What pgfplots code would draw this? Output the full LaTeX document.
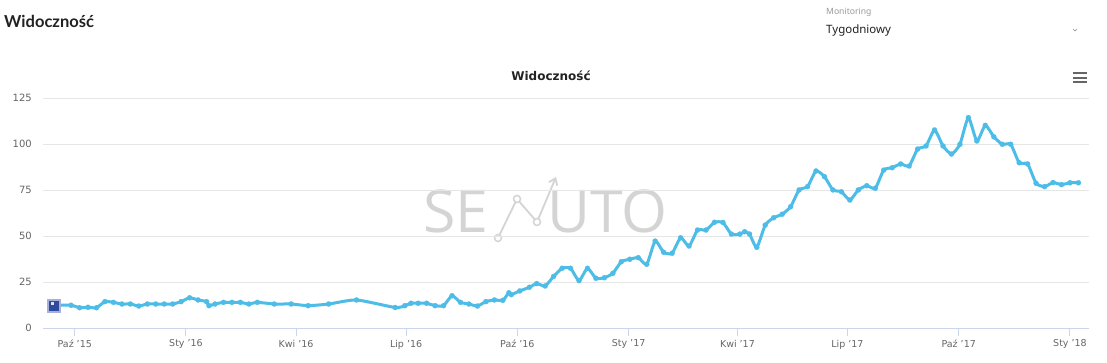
\documentclass[border=0pt]{standalone}
\usepackage{pgfplots}
\pgfplotsset{compat=1.18}
\usepackage{fontspec}
\usetikzlibrary{arrows.meta}
\setmainfont{DejaVu Sans}
\newfontfamily\hdr{Noto Sans}
\newfontfamily\hdrb{Lato}
\newfontfamily\wmfont{Open Sans}
\definecolor{linec}{HTML}{4DBDE8}
\definecolor{labelc}{HTML}{666666}
\definecolor{gridc}{HTML}{E6E6E6}
\definecolor{axisc}{HTML}{CCD6EB}
\definecolor{hdrc}{HTML}{222222}
\definecolor{wmc}{HTML}{D4D4D4}
\definecolor{navyc}{HTML}{2F4A9C}
\definecolor{navyl}{HTML}{8090C8}

\pgfplotstableread{
d v
-17 12.5
-3 12.5
4 11.2
11 11.4
18 11.2
25 14.5
32 14.1
39 13.2
46 13.2
53 12.1
60 13.2
67 13.2
74 13.2
81 13.2
88 14.5
95 16.6
102 15.4
109 14.5
111 12.3
116 13.2
123 14.1
130 14.1
137 14.1
144 13.2
151 14.1
165 13.2
179 13.2
193 12.3
210 13.2
233 15.4
265 11.3
273 12.3
278 13.6
284 13.6
291 13.6
298 12.3
305 12.3
312 17.7
319 14.1
326 13.2
333 12.1
340 14.5
347 15.4
354 15.2
359 19.3
361 18.3
368 20.3
376 22.3
382 24.3
389 23.0
396 28.2
403 32.6
410 32.6
417 25.9
424 32.6
431 27.2
438 27.5
445 29.9
452 36.2
459 37.5
466 38.4
473 34.8
480 47.4
487 41.3
494 40.8
501 49.2
508 44.7
515 53.4
522 53.4
529 57.6
536 57.5
543 51.2
550 51.2
554 52.5
558 51.2
564 44.0
571 56.1
578 60.1
585 62.0
592 66.1
599 75.2
606 77.0
613 85.5
620 82.4
627 75.2
634 74.2
641 69.7
648 75.2
655 77.5
662 76.1
669 86.0
676 87.3
683 89.3
690 88.2
697 97.4
704 99.1
711 107.8
718 99.1
725 94.7
732 100.0
739 114.5
746 101.8
753 110.3
760 104.1
767 100.0
774 100.0
781 90.0
788 89.3
795 78.8
802 77.0
809 79.2
816 78.1
823 79.1
830 79.1
}\vis

\begin{document}
\begin{tikzpicture}[x=1pt,y=1pt]
\useasboundingbox (0,0) rectangle (1107,363);
\fill[white] (0,0) rectangle (1107,363);

% header
\node[anchor=base west, inner sep=0, text=hdrc, font=\hdrb\bfseries\fontsize{16.5}{19}\selectfont] at (4,335) {Widoczność};
\node[anchor=base west, inner sep=0, text=black!40, font=\hdr\fontsize{8.6}{10}\selectfont] at (826,348) {Monitoring};
\node[anchor=base west, inner sep=0, text=hdrc, font=\hdr\fontsize{11.5}{14}\selectfont] at (826,329) {Tygodniowy};
\draw[black!45, line width=0.6pt] (1073,334) -- (1075,332) -- (1077,334);

% chart title
\node[anchor=base, inner sep=0, text=hdrc, font=\bfseries\fontsize{12}{14}\selectfont] at (551,282) {Widoczność};

% menu icon
\foreach \yy in {289.7,285.3,280.7}{\draw[labelc, line width=2pt] (1073,\yy) -- (1087,\yy);}

% watermark
\node[anchor=base west, inner sep=0, text=wmc, font=\wmfont\fontsize{59}{60}\selectfont] at (423,130) {SE};
\node[anchor=base west, inner sep=0, text=wmc, font=\wmfont\fontsize{59}{60}\selectfont] at (547,130) {UTO};
\draw[wmc, line width=1.8pt, -{Straight Barb[length=6pt,width=9pt]}] (498,125) -- (517,164) -- (537,141) -- (556,186);
\foreach \p in {(498,125),(517,164),(537,141)}{\filldraw[fill=white, draw=wmc, line width=1.5pt] \p circle (3.5);}

\begin{axis}[
  at={(43.3pt,34.7pt)}, anchor=south west,
  scale only axis, width=1046pt, height=230pt,
  xmin=-26, xmax=839, ymin=0, ymax=125,
  axis x line*=bottom, axis y line*=left,
  x axis line style={draw=axisc, line width=1pt, -},
  y axis line style={draw=none},
  ytick={0,25,50,75,100,125},
  xtick={0,92,183,274,366,458,548,639,731,823},
  xticklabels={{Paź '15},{Sty '16},{Kwi '16},{Lip '16},{Paź '16},{Sty '17},{Kwi '17},{Lip '17},{Paź '17},{Sty '18}},
  xtick align=outside, ytick align=inside,
  major tick length=8pt,
  xtick style={draw=axisc, line width=1pt},
  ytick style={draw=none},
  ymajorgrids, grid style={draw=gridc, line width=1pt},
  /pgf/number format/assume math mode=true,
  yticklabel style={font=\fontsize{10}{12}\selectfont, text=labelc, anchor=east, xshift=-8pt},
  xticklabel style={font=\fontsize{9.5}{11}\selectfont, text=labelc},
  clip=false,
]
\addplot[color=linec, line width=3pt, smooth, tension=0.35, line join=round, line cap=round,
  mark=*, mark size=2.6pt, mark options={fill=linec, draw=linec, line width=0.1pt}]
  table[x=d, y=v] {\vis};
\addplot[only marks, mark=square*, mark size=6.5pt, mark options={fill=navyl!70, draw=navyl!70, line width=0.5pt}] coordinates {(-17,12.5)};
\addplot[only marks, mark=square*, mark size=4.5pt, mark options={fill=navyc, draw=navyc, line width=0.5pt}] coordinates {(-17,12.5)};
\addplot[only marks, mark=square*, mark size=1.4pt, mark options={fill=white!75!navyl, draw=white!75!navyl, xshift=-2pt, yshift=2pt}] coordinates {(-17,12.5)};
\end{axis}
\end{tikzpicture}
\end{document}
